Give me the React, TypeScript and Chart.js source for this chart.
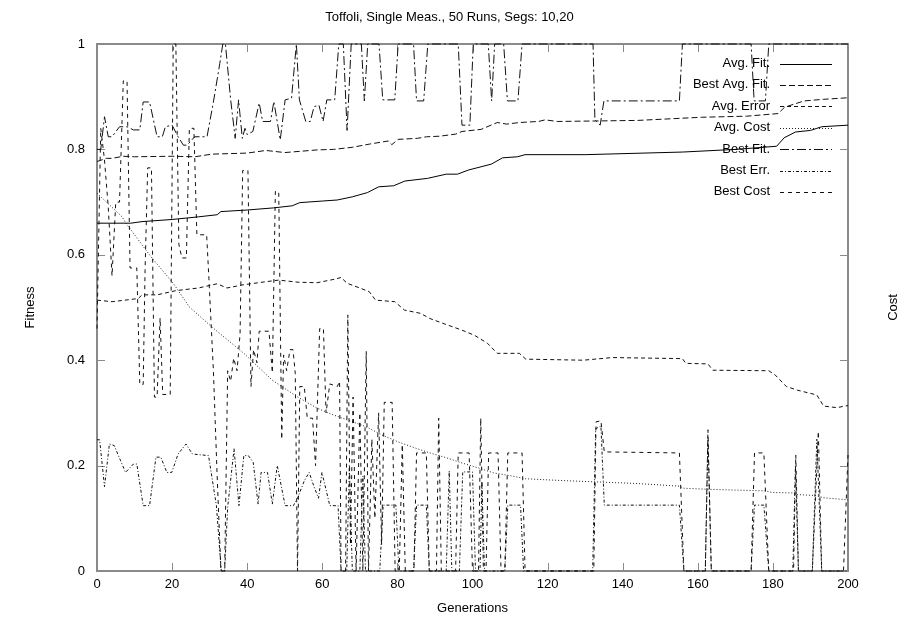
import { useEffect, useRef } from 'react';
import Chart from 'chart.js/auto';

// ---- text ----
const TITLE = 'Toffoli, Single Meas., 50 Runs, Segs: 10,20';
const X_TITLE = 'Generations';
const Y_TITLE = 'Fitness';
const Y2_TITLE = 'Cost';

// ---- ticks ----
const xTicks = [0, 20, 40, 60, 80, 100, 120, 140, 160, 180, 200];
const yTicks = [0, 0.2, 0.4, 0.6, 0.8, 1];
const yTickLabels = ['0', '0.2', '0.4', '0.6', '0.8', '1'];

// ---- series: [generation, value] ----
const avgFit: [number, number][] = [
  [0, 0.66], [9, 0.66], [12, 0.663], [20, 0.667], [27, 0.672], [32, 0.676], [33, 0.682],
  [40, 0.685], [47, 0.689], [52, 0.693], [54, 0.699], [60, 0.702], [64, 0.704], [68, 0.71],
  [72, 0.718], [75, 0.729], [79, 0.731], [82, 0.74], [88, 0.745], [93, 0.753], [96, 0.753],
  [99, 0.761], [105, 0.772], [108, 0.784], [112, 0.786], [114, 0.79], [130, 0.79], [156, 0.795],
  [170, 0.8], [181, 0.806], [183, 0.822], [186, 0.833], [190, 0.836], [193, 0.843], [200, 0.846],
];

const bestAvgFit: [number, number][] = [
  [0, 0.777], [2.5, 0.783], [4, 0.783], [7, 0.787], [10, 0.786], [20, 0.787], [26, 0.786],
  [30.6, 0.791], [40, 0.793], [45, 0.798], [50, 0.794], [58.6, 0.799], [63, 0.8], [68, 0.804],
  [72.5, 0.81], [77.6, 0.816], [78.5, 0.809], [80.2, 0.819], [85.3, 0.821], [87.8, 0.824],
  [91.2, 0.825], [95.5, 0.829], [97.2, 0.834], [102.3, 0.838], [106.6, 0.851], [109.1, 0.848],
  [112.5, 0.851], [117.6, 0.853], [119.3, 0.856], [122.7, 0.853], [144, 0.855], [161, 0.861],
  [173, 0.863], [181.4, 0.868], [183.1, 0.88], [188.3, 0.892], [193.4, 0.895], [200, 0.898],
];

const avgError: [number, number][] = [
  [0, 0.514], [4, 0.511], [11, 0.517], [12, 0.524], [16, 0.524], [21, 0.532], [27, 0.537],
  [32, 0.545], [34.6, 0.537], [38.9, 0.543], [45, 0.549], [48.4, 0.552], [53.5, 0.548],
  [58.6, 0.547], [63.5, 0.554], [65, 0.557], [66.6, 0.546], [70, 0.537], [72.5, 0.53],
  [74.2, 0.514], [79.3, 0.511], [81.9, 0.495], [86.1, 0.489], [88.7, 0.479], [92.1, 0.47],
  [97.2, 0.457], [100.6, 0.447], [104, 0.432], [106.6, 0.413], [112.5, 0.413], [114.2, 0.402],
  [129.5, 0.4], [137.2, 0.405], [155.9, 0.403], [156.8, 0.394], [162.7, 0.393], [164, 0.381],
  [178.9, 0.38], [180.6, 0.372], [183.6, 0.35], [186.6, 0.343], [191.7, 0.334], [193.5, 0.313],
  [197, 0.31], [200, 0.314],
];

const avgCost: [number, number][] = [
  [0, 0.717], [6.7, 0.672], [7.7, 0.66], [14.4, 0.596], [20.3, 0.546], [24.6, 0.501],
  [30.6, 0.463], [39.1, 0.413], [46.7, 0.362], [53.5, 0.33], [58.6, 0.309], [63, 0.296],
  [71.6, 0.274], [75.9, 0.258], [80.2, 0.245], [85.3, 0.232], [88.7, 0.224], [93, 0.215],
  [97.2, 0.205], [101.4, 0.196], [105.7, 0.186], [110, 0.181], [114.2, 0.175], [122.7, 0.172],
  [129.5, 0.17], [144, 0.166], [155, 0.161], [156.3, 0.157], [162.7, 0.155], [178, 0.152],
  [179.7, 0.149], [185.7, 0.148], [186.6, 0.145], [191.7, 0.143], [193.4, 0.139], [200, 0.135],
];

const bestFit: [number, number][] = [
  [0, 0.8], [1, 0.8], [2, 0.862], [3, 0.824], [4, 0.824], [6, 0.843], [8, 0.843], [9.7, 0.837],
  [11.4, 0.837], [12.3, 0.89], [14, 0.89], [16, 0.824], [17.4, 0.824], [18.2, 0.843], [20, 0.846],
  [21.6, 0.824], [23, 0.808], [24, 0.808], [26, 0.824], [29.3, 0.824], [31, 0.89], [32.7, 0.963],
  [33.5, 1], [34.2, 1], [35.6, 0.894], [36.8, 0.821], [37.7, 0.894], [38.7, 0.821], [39.4, 0.84],
  [40, 0.828], [41.5, 0.834], [43.2, 0.888], [44.1, 0.853], [46.2, 0.853], [47.1, 0.891],
  [48.8, 0.818], [50.1, 0.894], [51.8, 0.897], [53.1, 1], [53.9, 0.894], [55.6, 0.853],
  [56.8, 0.853], [57.8, 0.881], [59.1, 0.884], [60.2, 0.853], [61.2, 0.894], [63.3, 0.894],
  [64.4, 1], [65.6, 1], [66.6, 0.836], [67.7, 1], [70.4, 1], [71.2, 0.892], [72.1, 1],
  [75.1, 1], [76.1, 0.894], [79.3, 0.894], [80.2, 1], [84.3, 1], [85.1, 0.892], [87, 0.892],
  [88.1, 1], [96.2, 1], [97.2, 0.846], [99.3, 0.846], [100.2, 1], [104.2, 1], [105.1, 0.892],
  [105.9, 1], [108.3, 1], [109.3, 0.892], [112.1, 0.892], [113.2, 1], [132.1, 1], [132.6, 0.856],
  [134, 0.846], [135, 0.892], [155.1, 0.892], [155.9, 1], [174.2, 1], [175, 0.892], [178, 0.892],
  [178.9, 1], [200, 1],
];

const bestErr: [number, number][] = [
  [0, 0.249], [0.7, 0.249], [1.4, 0.201], [2, 0.16], [3.3, 0.241], [4.6, 0.238], [6.3, 0.209],
  [7.6, 0.187], [9.7, 0.203], [10.6, 0.203], [12.3, 0.124], [14, 0.124], [15.7, 0.216],
  [17, 0.216], [18.6, 0.187], [19.9, 0.187], [21.6, 0.222], [23.7, 0.241], [25.4, 0.222],
  [29.7, 0.219], [31.8, 0.124], [33.1, 0], [34, 0], [34.8, 0.121], [36.5, 0.232], [37.8, 0.124],
  [39.1, 0.219], [40.3, 0.219], [41.6, 0.206], [42.9, 0.127], [43.7, 0.187], [45.4, 0.187],
  [46.7, 0.127], [48, 0.2], [50.1, 0.124], [52.3, 0.124], [53.5, 0.14], [55.2, 0.171],
  [56.5, 0.187], [57.8, 0.16], [59, 0.138], [59.9, 0.187], [62, 0.124], [64.2, 0.124], [65, 0],
  [66.5, 0], [67.2, 0.2], [68, 0], [70, 0], [70.8, 0.18], [71.5, 0], [75.3, 0], [76.2, 0.125],
  [79.6, 0.125], [80.4, 0], [84.3, 0], [85.1, 0.125], [87.7, 0.125], [88.5, 0], [93, 0],
  [93.8, 0.19], [94.5, 0], [96.5, 0], [97.4, 0.188], [100, 0.188], [100.8, 0], [102, 0],
  [102.5, 0.17], [103.2, 0], [108.6, 0], [109.4, 0.125], [112.8, 0.125], [113.6, 0], [132, 0],
  [132.8, 0.27], [134.2, 0.275], [135.1, 0.125], [155.1, 0.125], [156.3, 0], [162, 0],
  [162.7, 0.25], [163.6, 0], [174.2, 0], [175.1, 0.125], [177.6, 0.125], [178.9, 0], [185.3, 0],
  [186, 0.2], [186.8, 0], [190.5, 0], [191.7, 0.25], [193, 0], [200, 0],
];

const bestCost: [number, number][] = [
  [0, 0.46], [1, 0.84], [2, 0.78], [3, 0.69], [4, 0.56], [5, 0.7], [6, 0.7], [7, 0.93],
  [8, 0.93], [8.8, 0.575], [10.6, 0.575], [11.4, 0.354], [12.3, 0.354], [12.8, 0.57],
  [13.5, 0.765], [14.5, 0.765], [15.3, 0.33], [16, 0.33], [16.8, 0.48], [17.5, 0.335],
  [19.5, 0.335], [20.3, 1], [21, 1], [21.8, 0.62], [22.6, 0.594], [23.8, 0.594], [24.6, 0.84],
  [25.8, 0.84], [26.6, 0.638], [29.2, 0.638], [29.8, 0.555], [31, 0.38], [32, 0.18], [33, 0],
  [34, 0], [34.8, 0.38], [35.6, 0.36], [36.4, 0.404], [37.3, 0.38], [38.1, 0.45], [38.8, 0.76],
  [40.2, 0.76], [41, 0.35], [41.7, 0.42], [42.6, 0.395], [43.2, 0.455], [45.8, 0.455],
  [46.7, 0.376], [47.5, 0.72], [48.4, 0.72], [49.2, 0.25], [49.7, 0.41], [50.5, 0.38],
  [51.4, 0.42], [52.2, 0.42], [52.8, 0.375], [53.4, 0], [54, 0.35], [55.2, 0.35], [56, 0.29],
  [57.4, 0.29], [58.2, 0.2], [59.3, 0.46], [60.3, 0.46], [61, 0.3], [62, 0.355], [64, 0.35],
  [64.6, 0.36], [65, 0], [66.2, 0], [66.8, 0.486], [67.5, 0.05], [68.2, 0.33], [69, 0],
  [70, 0.3], [70.8, 0], [71.7, 0.417], [72.3, 0], [73.2, 0.25], [74, 0.1], [75, 0.3],
  [75.8, 0.05], [76.5, 0.32], [78.6, 0.32], [79.4, 0], [80.5, 0], [81.3, 0.24], [82.1, 0],
  [84.4, 0], [85.1, 0.224], [87.7, 0.224], [88.5, 0], [90.4, 0], [91, 0.29], [91.7, 0],
  [95.5, 0], [96.2, 0.224], [99.1, 0.224], [100, 0], [101.6, 0], [102.2, 0.29], [102.9, 0],
  [103.6, 0], [104.3, 0.224], [106.8, 0.224], [107.6, 0], [108.6, 0], [109.4, 0.224],
  [113.2, 0.224], [114, 0], [132.3, 0], [132.9, 0.283], [134.2, 0.285], [135.1, 0.226],
  [155.1, 0.224], [156.3, 0], [162, 0], [162.7, 0.268], [163.6, 0], [174.2, 0], [175.1, 0.224],
  [177.6, 0.224], [178.9, 0], [185.5, 0], [186.1, 0.22], [186.8, 0], [190.5, 0], [192.1, 0.265],
  [193, 0], [198.8, 0], [200, 0.22],
];

const seriesLabels = ['Avg. Fit.', 'Best Avg. Fit.', 'Avg. Error', 'Avg. Cost', 'Best Fit.', 'Best Err.', 'Best Cost'];
const seriesData = [avgFit, bestAvgFit, avgError, avgCost, bestFit, bestErr, bestCost];
const seriesDash: number[][] = [[], [6, 3], [4, 3], [1, 2], [9, 3, 2, 3], [3, 2, 1, 2], [4, 4]];
const seriesColor = ['#000', '#111', '#111', '#222', '#111', '#111', '#111'];

const FONT = '"Liberation Sans", Arial, Helvetica, sans-serif';
const FRAME = '#8a8a8a';

const framePlugin = {
  id: 'gnuFrame',
  beforeDatasetsDraw(chart: any) {
    const { ctx, chartArea: a, scales } = chart;
    ctx.save();
    ctx.strokeStyle = FRAME;
    ctx.lineWidth = 1;
    const tick = 8;
    ctx.beginPath();
    for (const v of xTicks) {
      const px = Math.round(scales.x.getPixelForValue(v)) + 0.5;
      ctx.moveTo(px, a.bottom); ctx.lineTo(px, a.bottom - tick);
      ctx.moveTo(px, a.top); ctx.lineTo(px, a.top + tick);
    }
    for (const v of yTicks) {
      const py = Math.round(scales.y.getPixelForValue(v)) + 0.5;
      ctx.moveTo(a.left, py); ctx.lineTo(a.left + tick, py);
      ctx.moveTo(a.right, py); ctx.lineTo(a.right - tick, py);
    }
    ctx.stroke();
    ctx.lineWidth = 2;
    ctx.strokeRect(a.left, a.top, a.right - a.left, a.bottom - a.top);
    ctx.restore();
  },
  afterDraw(chart: any) {
    const { ctx, chartArea: a } = chart;
    ctx.save();
    ctx.fillStyle = '#000';
    ctx.font = `13px ${FONT}`;
    ctx.textBaseline = 'middle';
    // axis titles
    ctx.textAlign = 'center';
    ctx.fillText(X_TITLE, (a.left + a.right) / 2, 608);
    const midY = (a.top + a.bottom) / 2;
    ctx.save();
    ctx.translate(30, midY);
    ctx.rotate(-Math.PI / 2);
    ctx.fillText(Y_TITLE, 0, 0);
    ctx.restore();
    ctx.save();
    ctx.translate(893, midY);
    ctx.rotate(-Math.PI / 2);
    ctx.fillText(Y2_TITLE, 0, 0);
    ctx.restore();
    // key
    chart.data.datasets.forEach((ds: any, i: number) => {
      const y = 63.5 + i * 21.4;
      ctx.textAlign = 'right';
      ctx.fillStyle = '#000';
      ctx.fillText(ds.label, 770, y);
      ctx.strokeStyle = ds.borderColor;
      ctx.lineWidth = 1;
      ctx.setLineDash(ds.borderDash || []);
      ctx.beginPath();
      ctx.moveTo(780, Math.round(y) + 0.5);
      ctx.lineTo(832, Math.round(y) + 0.5);
      ctx.stroke();
      ctx.setLineDash([]);
    });
    ctx.restore();
  },
};

export default function App() {
  const ref = useRef<HTMLCanvasElement>(null);
  useEffect(() => {
    const canvas = ref.current;
    if (!canvas) return;
    const tickFont = { family: FONT, size: 13, weight: 'normal' as const, lineHeight: 1.2 };
    const chart = new Chart(canvas, {
      type: 'line',
      data: {
        datasets: seriesData.map((pts, i) => ({
          label: seriesLabels[i],
          data: pts.map(([x, y]) => ({ x, y })),
          borderColor: seriesColor[i],
          borderWidth: 1,
          borderDash: seriesDash[i],
          pointRadius: 0,
          tension: 0,
          fill: false,
          clip: false as any,
        })),
      },
      options: {
        responsive: false,
        animation: false,
        devicePixelRatio: 1,
        layout: { padding: 0 },
        plugins: {
          legend: { display: false },
          tooltip: { enabled: false },
          title: {
            display: true,
            text: TITLE,
            color: '#000',
            font: { family: FONT, size: 13, weight: 'normal', lineHeight: 1.2 },
            padding: { top: 10, bottom: 18.4 },
          },
        },
        scales: {
          x: {
            type: 'linear',
            min: 0,
            max: 200,
            position: 'bottom',
            afterBuildTicks: (s: any) => { s.ticks = xTicks.map((value) => ({ value })); },
            ticks: { color: '#000', font: tickFont, padding: 6, maxRotation: 0, autoSkip: false },
            grid: { display: false, drawTicks: false },
            border: { display: false },
            afterFit: (s: any) => { s.height = 55; },
          },
          y: {
            type: 'linear',
            min: 0,
            max: 1,
            position: 'left',
            afterBuildTicks: (s: any) => { s.ticks = yTicks.map((value) => ({ value })); },
            ticks: {
              color: '#000',
              font: tickFont,
              padding: 12,
              autoSkip: false,
              callback: (_v: any, idx: number) => yTickLabels[idx],
            },
            grid: { display: false, drawTicks: false },
            border: { display: false },
            afterFit: (s: any) => { s.width = 97; },
          },
          y2: {
            type: 'linear',
            min: 0,
            max: 1,
            position: 'right',
            ticks: { display: false },
            grid: { display: false, drawTicks: false },
            border: { display: false },
            afterFit: (s: any) => { s.width = 51; },
          },
        },
      },
      plugins: [framePlugin],
    });
    return () => chart.destroy();
  }, []);

  return (
    <div style={{ position: 'fixed', left: 0, top: 0, width: 899, height: 626, background: '#fff' }}>
      <canvas ref={ref} width={899} height={626} style={{ width: 899, height: 626, display: 'block' }} />
    </div>
  );
}
